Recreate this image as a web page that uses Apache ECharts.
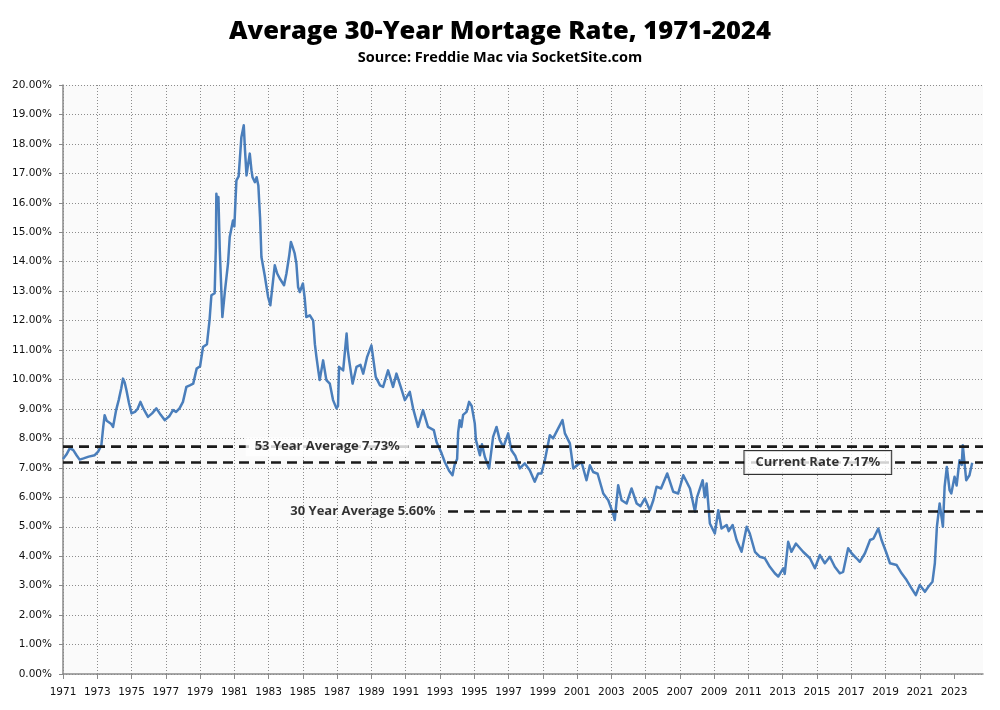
<!DOCTYPE html>
<html>
<head>
<meta charset="utf-8">
<title>Average 30-Year Mortage Rate, 1971-2024</title>
<script src="https://cdn.jsdelivr.net/npm/echarts@6/dist/echarts.min.js"></script>
<style>
html, body { margin: 0; padding: 0; background: #fff; }
#chart { width: 1000px; height: 710px; }
</style>
</head>
<body>
<div id="chart"></div>
<script>
// x values are decimal years, y values are rates in percent
var BASE_YEAR = 1971;
var AXIS_END = 2024.69;

var yearTicks = [1971, 1973, 1975, 1977, 1979, 1981, 1983, 1985, 1987, 1989, 1991, 1993, 1995,
    1997, 1999, 2001, 2003, 2005, 2007, 2009, 2011, 2013, 2015, 2017, 2019, 2021, 2023];

var rates = [
    [1971.00, 7.30], [1971.20, 7.45], [1971.40, 7.67], [1971.60, 7.60], [1971.80, 7.42], [1971.97, 7.28],
    [1972.20, 7.32], [1972.50, 7.38], [1972.85, 7.43], [1973.05, 7.55], [1973.24, 7.77], [1973.35, 8.40],
    [1973.43, 8.79], [1973.55, 8.60], [1973.63, 8.56], [1973.80, 8.50], [1973.92, 8.39], [1974.10, 8.96],
    [1974.25, 9.30], [1974.40, 9.70], [1974.50, 10.03], [1974.60, 9.90], [1974.70, 9.64], [1974.85, 9.20],
    [1975.00, 8.85], [1975.20, 8.90], [1975.35, 9.00], [1975.52, 9.24], [1975.70, 9.00], [1975.96, 8.73],
    [1976.20, 8.85], [1976.45, 9.02], [1976.70, 8.80], [1976.94, 8.62], [1977.20, 8.75], [1977.42, 8.96],
    [1977.60, 8.90], [1977.80, 9.02], [1978.00, 9.24], [1978.20, 9.75], [1978.40, 9.80], [1978.60, 9.86],
    [1978.80, 10.37], [1979.00, 10.45], [1979.17, 11.10], [1979.40, 11.20], [1979.55, 12.00], [1979.66, 12.86],
    [1979.85, 12.93], [1979.92, 14.50], [1979.95, 16.31], [1980.00, 16.00], [1980.07, 16.20], [1980.15, 14.39],
    [1980.30, 12.12], [1980.45, 13.00], [1980.63, 13.94], [1980.73, 14.84], [1980.92, 15.40], [1981.00, 15.20],
    [1981.12, 16.76], [1981.25, 16.90], [1981.41, 18.23], [1981.55, 18.63], [1981.62, 17.80], [1981.71, 16.93],
    [1981.80, 17.30], [1981.90, 17.67], [1982.00, 17.10], [1982.06, 16.87], [1982.20, 16.70], [1982.30, 16.87],
    [1982.40, 16.59], [1982.50, 15.50], [1982.58, 14.16], [1982.77, 13.54], [1982.97, 12.80], [1983.10, 12.52],
    [1983.36, 13.88], [1983.50, 13.60], [1983.65, 13.43], [1983.90, 13.20], [1984.04, 13.60], [1984.20, 14.20],
    [1984.30, 14.67], [1984.40, 14.50], [1984.52, 14.28], [1984.62, 13.94], [1984.72, 13.14], [1984.82, 12.97],
    [1985.00, 13.26], [1985.10, 12.80], [1985.20, 12.12], [1985.40, 12.18], [1985.60, 12.00], [1985.70, 11.20],
    [1985.79, 10.77], [1985.90, 10.30], [1985.98, 9.98], [1986.18, 10.65], [1986.37, 9.98], [1986.57, 9.86],
    [1986.76, 9.30], [1986.96, 9.02], [1987.05, 9.10], [1987.11, 10.43], [1987.35, 10.31], [1987.55, 11.56],
    [1987.62, 11.00], [1987.70, 10.65], [1987.90, 9.86], [1988.13, 10.43], [1988.36, 10.50], [1988.52, 10.20],
    [1988.75, 10.77], [1989.00, 11.16], [1989.25, 10.09], [1989.50, 9.80], [1989.68, 9.75], [1989.97, 10.31],
    [1990.26, 9.75], [1990.46, 10.20], [1990.71, 9.75], [1990.95, 9.30], [1991.24, 9.58], [1991.43, 9.02],
    [1991.72, 8.39], [1992.01, 8.96], [1992.30, 8.39], [1992.64, 8.28], [1992.80, 7.88], [1993.09, 7.50],
    [1993.28, 7.20], [1993.53, 6.90], [1993.73, 6.75], [1993.85, 7.10], [1994.00, 7.30], [1994.06, 8.20],
    [1994.15, 8.62], [1994.25, 8.39], [1994.35, 8.80], [1994.55, 8.90], [1994.70, 9.24], [1994.85, 9.10],
    [1995.03, 8.51], [1995.10, 7.94], [1995.33, 7.43], [1995.45, 7.80], [1995.62, 7.37], [1995.87, 6.98],
    [1996.10, 8.05], [1996.30, 8.39], [1996.49, 7.94], [1996.70, 7.70], [1996.98, 8.17], [1997.17, 7.60],
    [1997.40, 7.40], [1997.66, 6.98], [1997.95, 7.15], [1998.24, 6.92], [1998.53, 6.53], [1998.73, 6.81],
    [1998.92, 6.81], [1999.12, 7.26], [1999.41, 8.11], [1999.60, 8.00], [1999.90, 8.34], [2000.15, 8.62],
    [2000.29, 8.17], [2000.58, 7.83], [2000.78, 6.98], [2001.00, 7.09], [2001.26, 7.20], [2001.55, 6.58],
    [2001.75, 7.09], [2001.94, 6.86], [2002.20, 6.80], [2002.53, 6.13], [2002.82, 5.90], [2003.10, 5.45],
    [2003.20, 5.23], [2003.40, 6.41], [2003.60, 5.90], [2003.89, 5.79], [2004.18, 6.30], [2004.48, 5.79],
    [2004.70, 5.70], [2004.96, 5.96], [2005.25, 5.56], [2005.45, 5.90], [2005.64, 6.36], [2005.90, 6.30],
    [2006.26, 6.81], [2006.61, 6.19], [2006.90, 6.13], [2007.20, 6.75], [2007.59, 6.30], [2007.88, 5.51],
    [2008.00, 6.00], [2008.33, 6.58], [2008.45, 6.00], [2008.56, 6.47], [2008.75, 5.11], [2009.04, 4.77],
    [2009.24, 5.56], [2009.43, 4.94], [2009.73, 5.06], [2009.85, 4.85], [2010.08, 5.06], [2010.31, 4.55],
    [2010.60, 4.15], [2010.90, 5.00], [2011.08, 4.77], [2011.38, 4.15], [2011.67, 3.98], [2011.96, 3.93],
    [2012.25, 3.64], [2012.54, 3.42], [2012.74, 3.31], [2013.03, 3.59], [2013.12, 3.40], [2013.32, 4.49],
    [2013.51, 4.15], [2013.77, 4.43], [2014.19, 4.15], [2014.59, 3.93], [2014.88, 3.59], [2015.17, 4.04],
    [2015.46, 3.76], [2015.75, 3.98], [2016.04, 3.64], [2016.33, 3.42], [2016.53, 3.47], [2016.82, 4.27],
    [2017.02, 4.10], [2017.31, 3.93], [2017.50, 3.81], [2017.80, 4.10], [2018.10, 4.55], [2018.30, 4.60],
    [2018.58, 4.94], [2018.77, 4.55], [2019.06, 4.10], [2019.26, 3.76], [2019.65, 3.70], [2019.94, 3.42],
    [2020.23, 3.19], [2020.52, 2.91], [2020.77, 2.68], [2021.00, 3.02], [2021.30, 2.79], [2021.50, 2.96],
    [2021.74, 3.13], [2021.88, 3.76], [2022.00, 5.00], [2022.16, 5.79], [2022.35, 5.00], [2022.45, 6.36],
    [2022.58, 7.03], [2022.74, 6.24], [2022.84, 6.13], [2023.03, 6.70], [2023.15, 6.40], [2023.32, 7.26],
    [2023.45, 7.10], [2023.51, 7.77], [2023.71, 6.58], [2023.90, 6.75], [2024.06, 7.17]
];

// reference lines: [startYear, value, label, labelYear]
var avg53 = [1971.00, 7.72, "53 Year Average 7.73%", 1986.42];
var current = [1971.00, 7.18, "Current Rate 7.17%", 2015.05];
var avg30 = [1993.47, 5.52, "30 Year Average 5.60%", 1988.50];

var labelFont = "'Open Sans', sans-serif";
var axisFont = "'DejaVu Sans', sans-serif";

function off(y) {
    return y - BASE_YEAR;
}

function refLine(r) {
    return {
        type: "line",
        data: [[off(r[0]), r[1]], [off(AXIS_END), r[1]]],
        symbol: "none",
        silent: true,
        z: 4,
        lineStyle: { color: "#1a1a1a", width: 2.6, type: [10, 6] }
    };
}

function refLabel(r, boxed, bg) {
    var label = {
        show: true,
        position: "inside",
        formatter: r[2],
        color: "#000",
        fontFamily: labelFont,
        fontWeight: 700,
        fontSize: 13
    };
    if (bg) {
        label.backgroundColor = "#fff";
        label.padding = [3, 9];
    }
    if (boxed) {
        label.borderColor = "#000";
        label.borderWidth = 1;
        label.padding = [5, 11];
    }
    return {
        type: "scatter",
        data: [[off(r[3]), r[1]]],
        symbolSize: 0,
        silent: true,
        z: 6,
        label: label
    };
}

var chart = echarts.init(document.getElementById("chart"), null, { renderer: "canvas" });

chart.setOption({
    backgroundColor: "#fff",
    animation: false,
    title: {
        text: "Average 30-Year Mortage Rate, 1971-2024",
        subtext: "Source: Freddie Mac via SocketSite.com",
        left: "center",
        top: 14,
        itemGap: 5,
        textStyle: { fontFamily: labelFont, fontWeight: 800, fontSize: 25.5, color: "#000" },
        subtextStyle: { fontFamily: labelFont, fontWeight: 700, fontSize: 14.5, color: "#000" }
    },
    grid: {
        left: 63, right: 17, top: 85, bottom: 36,
        show: true, backgroundColor: "#fafafa", borderWidth: 0
    },
    xAxis: {
        type: "value",
        min: 0,
        max: off(AXIS_END),
        interval: 2,
        axisLine: { lineStyle: { color: "#8a8a8a", width: 1.5 } },
        axisTick: { show: true, length: 5, lineStyle: { color: "#8a8a8a" }, customValues: yearTicks.map(off) },
        axisLabel: {
            customValues: yearTicks.map(off),
            formatter: function (v) { return String(Math.round(v + BASE_YEAR)); },
            color: "#111", fontFamily: axisFont, fontSize: 10.5, margin: 13
        },
        splitLine: { show: true, showMaxLine: false, lineStyle: { color: "#8c8c8c", type: [1, 2], width: 1 } }
    },
    yAxis: {
        type: "value",
        min: 0,
        max: 20,
        interval: 1,
        axisLine: { show: true, lineStyle: { color: "#8a8a8a", width: 1.5 } },
        axisTick: { show: true, length: 4, lineStyle: { color: "#8a8a8a" } },
        axisLabel: {
            formatter: function (v) { return v.toFixed(2) + "%"; },
            color: "#111", fontFamily: axisFont, fontSize: 10.5, margin: 11
        },
        splitLine: { show: true, lineStyle: { color: "#8c8c8c", type: [1, 2], width: 1 } }
    },
    series: [
        {
            type: "line",
            data: rates.map(function (p) { return [off(p[0]), p[1]]; }),
            symbol: "none",
            z: 3,
            lineStyle: { color: "#4a7ebb", width: 2.5, join: "round" }
        },
        refLine(avg53),
        refLine(current),
        refLine(avg30),
        refLabel(avg53, false, true),
        refLabel(current, true, true),
        refLabel(avg30, false, false)
    ]
});
</script>
</body>
</html>
